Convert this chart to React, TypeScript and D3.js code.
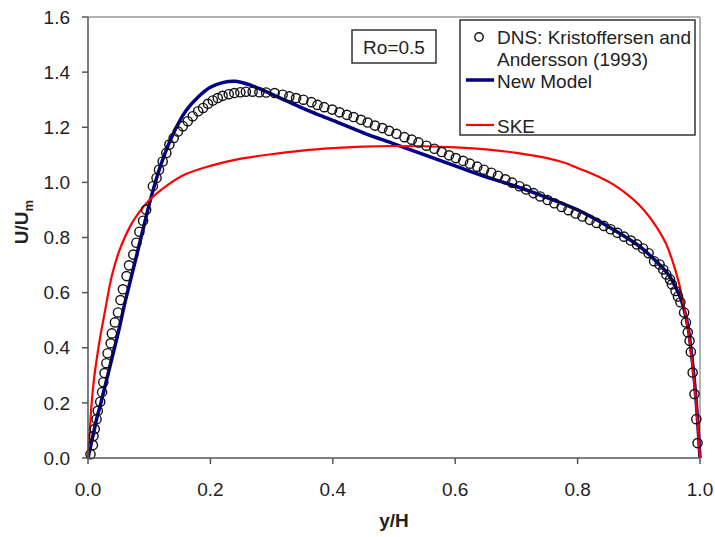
import React from "react";
import * as d3 from "d3";

// DNS: Kristoffersen and Andersson (1993)
const dnsX = [
  0.004, 0.008, 0.009, 0.011, 0.014, 0.016, 0.02, 0.023, 0.025, 0.027, 0.03, 0.032, 0.037, 0.039,
  0.044, 0.049, 0.053, 0.057, 0.063, 0.067, 0.074, 0.079, 0.084, 0.09, 0.095, 0.106, 0.112, 0.116,
  0.122, 0.128, 0.133, 0.14, 0.147, 0.155, 0.163, 0.171, 0.18, 0.188, 0.196, 0.204, 0.212, 0.22,
  0.23, 0.239, 0.249, 0.258, 0.269, 0.28, 0.291, 0.305, 0.318, 0.329, 0.34, 0.352, 0.365, 0.375,
  0.386, 0.399, 0.411, 0.423, 0.434, 0.446, 0.457, 0.469, 0.481, 0.492, 0.504, 0.517, 0.529, 0.54,
  0.553, 0.566, 0.578, 0.59, 0.601, 0.613, 0.624, 0.636, 0.647, 0.659, 0.67, 0.682, 0.693, 0.705,
  0.716, 0.728, 0.739, 0.751, 0.762, 0.774, 0.785, 0.797, 0.808, 0.82, 0.831, 0.843, 0.854, 0.865,
  0.876, 0.887, 0.897, 0.907, 0.916, 0.925, 0.934, 0.94, 0.945, 0.951, 0.954, 0.96, 0.964, 0.968,
  0.974, 0.977, 0.98, 0.983, 0.985, 0.988, 0.991, 0.994, 0.996,
];
const dnsY = [
  0.014, 0.047, 0.08, 0.105, 0.141, 0.171, 0.204, 0.239, 0.275, 0.308, 0.344, 0.38, 0.416, 0.452,
  0.492, 0.528, 0.573, 0.612, 0.66, 0.699, 0.738, 0.781, 0.821, 0.861, 0.901, 0.986, 1.016, 1.046,
  1.076, 1.107, 1.137, 1.161, 1.185, 1.204, 1.222, 1.24, 1.258, 1.27, 1.285, 1.297, 1.306, 1.314,
  1.32, 1.324, 1.327, 1.329, 1.329, 1.327, 1.326, 1.324, 1.318, 1.312, 1.306, 1.3, 1.291, 1.281,
  1.273, 1.264, 1.254, 1.245, 1.237, 1.227, 1.217, 1.206, 1.197, 1.187, 1.176, 1.164, 1.155, 1.145,
  1.133, 1.122, 1.11, 1.098, 1.088, 1.078, 1.068, 1.057, 1.046, 1.035, 1.024, 1.011, 0.999, 0.986,
  0.974, 0.961, 0.949, 0.936, 0.924, 0.911, 0.899, 0.887, 0.876, 0.864, 0.853, 0.842, 0.83, 0.817,
  0.803, 0.789, 0.775, 0.76, 0.743, 0.714, 0.702, 0.684, 0.666, 0.648, 0.63, 0.606, 0.586, 0.565,
  0.528, 0.492, 0.456, 0.425, 0.385, 0.31, 0.232, 0.141, 0.054,
];

// New Model
const modelX = [
  0, 0.005, 0.01, 0.015, 0.02, 0.03, 0.04, 0.05, 0.06, 0.07, 0.08, 0.09, 0.1, 0.11, 0.12, 0.14,
  0.16, 0.18, 0.2, 0.22, 0.24, 0.26, 0.28, 0.3, 0.33, 0.36, 0.4, 0.45, 0.5, 0.55, 0.6, 0.65, 0.7,
  0.75, 0.8, 0.85, 0.9, 0.93, 0.95, 0.96, 0.97, 0.98, 0.985, 0.99, 0.995, 1.0,
];
const modelY = [
  0, 0.05, 0.1, 0.15, 0.19, 0.28, 0.37, 0.46, 0.56, 0.65, 0.74, 0.83, 0.92, 1.0, 1.07, 1.18, 1.26,
  1.31, 1.345, 1.362, 1.367, 1.357, 1.34, 1.32, 1.29, 1.26, 1.225, 1.18, 1.14, 1.1, 1.06, 1.02,
  0.985, 0.945, 0.9, 0.84, 0.77, 0.71, 0.66, 0.62, 0.57, 0.48, 0.4, 0.3, 0.17, 0,
];

// SKE
const skeX = [
  0, 0.003, 0.006, 0.01, 0.015, 0.02, 0.025, 0.03, 0.035, 0.04, 0.05, 0.06, 0.07, 0.08, 0.1, 0.13,
  0.16, 0.2, 0.25, 0.3, 0.35, 0.4, 0.45, 0.5, 0.55, 0.6, 0.65, 0.7, 0.75, 0.78, 0.8, 0.83, 0.86,
  0.89, 0.91, 0.93, 0.945, 0.955, 0.965, 0.972, 0.978, 0.984, 0.989, 0.994, 0.997, 1.0,
];
const skeY = [
  0, 0.1, 0.2, 0.29, 0.37, 0.44, 0.5, 0.56, 0.62, 0.67, 0.745, 0.8, 0.845, 0.88, 0.935, 0.99, 1.03,
  1.06, 1.086, 1.102, 1.115, 1.124, 1.13, 1.132, 1.131, 1.127, 1.12, 1.107, 1.088, 1.07, 1.052,
  1.025, 0.99, 0.94, 0.895, 0.835, 0.775, 0.715, 0.64, 0.57, 0.5, 0.41, 0.31, 0.19, 0.1, 0,
];

const xTicks = [0, 0.2, 0.4, 0.6, 0.8, 1.0];
const yTicks = [0, 0.2, 0.4, 0.6, 0.8, 1.0, 1.2, 1.4, 1.6];
const legendLabels = ["DNS: Kristoffersen and", "Andersson (1993)", "New Model", "SKE"];
const rotationLabel = "Ro=0.5";

const W = 715;
const H = 537;
const left = 88;
const right = 700;
const top = 17;
const bottom = 458;
const font = "'Liberation Sans', Arial, sans-serif";

const App = () => {
  const x = d3.scaleLinear().domain([0, 1]).range([left, right]);
  const y = d3.scaleLinear().domain([0, 1.6]).range([bottom, top]);
  const fmt = d3.format(".1f");

  const path = (xs: number[], ys: number[]) =>
    d3
      .line<number>()
      .x((_, i) => x(xs[i]))
      .y((_, i) => y(ys[i]))
      .curve(d3.curveCatmullRom.alpha(0.5))(xs) || "";

  return (
    <svg
      width={W}
      height={H}
      style={{ position: "absolute", left: 0, top: 0, background: "#fff" }}
      fontFamily={font}
    >
      {/* frame */}
      <line x1={left} x2={right} y1={top} y2={top} stroke="#999" strokeWidth={1.5} />
      <line x1={right} x2={right} y1={top} y2={bottom} stroke="#999" strokeWidth={1.5} />

      {/* curves */}
      <path d={path(modelX, modelY)} fill="none" stroke="#000088" strokeWidth={3.5} />
      <path d={path(skeX, skeY)} fill="none" stroke="#ff0000" strokeWidth={2.2} />
      {dnsX.map((d, i) => (
        <circle key={i} cx={x(d)} cy={y(dnsY[i])} r={4.6} fill="none" stroke="#111" strokeWidth={1.4} />
      ))}

      {/* axes */}
      <line x1={left} x2={left} y1={top} y2={bottom} stroke="#555" strokeWidth={1.5} />
      <line x1={left} x2={right} y1={bottom} y2={bottom} stroke="#555" strokeWidth={1.5} />
      {yTicks.map((t) => (
        <g key={"y" + t}>
          <line x1={left - 6} x2={left} y1={y(t)} y2={y(t)} stroke="#555" strokeWidth={1.5} />
          <text x={left - 18} y={y(t)} dy="0.35em" textAnchor="end" fontSize={19} fill="#222">
            {fmt(t)}
          </text>
        </g>
      ))}
      {xTicks.map((t) => (
        <g key={"x" + t}>
          <line x1={x(t)} x2={x(t)} y1={bottom} y2={bottom + 6} stroke="#555" strokeWidth={1.5} />
          <text x={x(t)} y={bottom + 38} textAnchor="middle" fontSize={19} fill="#222">
            {fmt(t)}
          </text>
        </g>
      ))}

      {/* axis titles */}
      <text
        transform={`translate(28,${222}) rotate(-90)`}
        textAnchor="middle"
        fontSize={19}
        fontWeight="bold"
        fill="#222"
      >
        U/U<tspan fontSize={13} dy={5}>m</tspan>
      </text>
      <text x={(left + right) / 2} y={527} textAnchor="middle" fontSize={19} fontWeight="bold" fill="#222">
        y/H
      </text>

      {/* Ro box */}
      <rect x={352} y={30} width={84} height={33} fill="#fff" stroke="#333" strokeWidth={1.5} />
      <text x={394} y={54} textAnchor="middle" fontSize={19} fill="#222">
        {rotationLabel}
      </text>

      {/* legend */}
      <rect x={460} y={20} width={235} height={115} fill="#fff" stroke="#333" strokeWidth={1.5} />
      <circle cx={479} cy={37} r={4.2} fill="none" stroke="#111" strokeWidth={1.4} />
      <text x={497} y={44} fontSize={19} fill="#222">{legendLabels[0]}</text>
      <text x={497} y={66} fontSize={19} fill="#222">{legendLabels[1]}</text>
      <line x1={466} x2={494} y1={80} y2={80} stroke="#000088" strokeWidth={3.5} />
      <text x={497} y={88} fontSize={19} fill="#222">{legendLabels[2]}</text>
      <line x1={466} x2={494} y1={125} y2={125} stroke="#ff0000" strokeWidth={2.2} />
      <text x={497} y={133} fontSize={19} fill="#222">{legendLabels[3]}</text>
    </svg>
  );
};

export default App;
